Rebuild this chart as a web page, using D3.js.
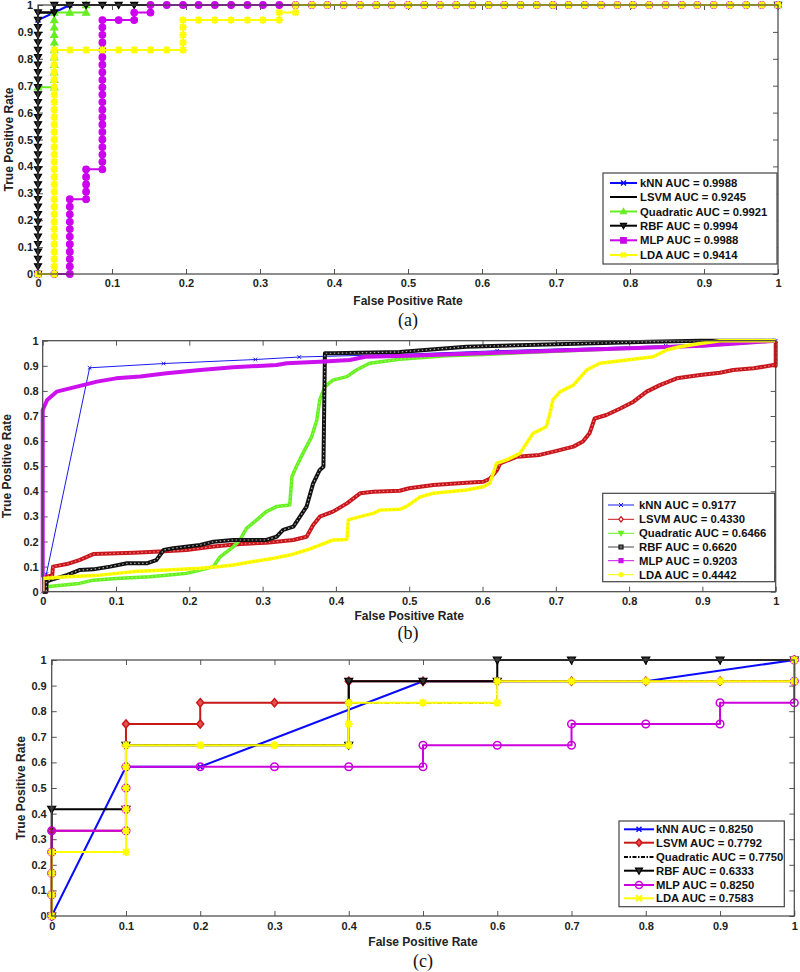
<!DOCTYPE html>
<html><head><meta charset="utf-8">
<script src="https://cdn.jsdelivr.net/npm/d3@7"></script>
<style>body{margin:0;background:#fff}svg{display:block}</style>
</head><body><svg id="c" width="800" height="972"></svg>
<script>
// ---------------- DATA ----------------
const seriesNames = ["kNN", "LSVM", "Quadratic", "RBF", "MLP", "LDA"];
const aucA = ["0.9988", "0.9245", "0.9921", "0.9994", "0.9988", "0.9414"];
const aucB = ["0.9177", "0.4330", "0.6466", "0.6620", "0.9203", "0.4442"];
const aucC = ["0.8250", "0.7792", "0.7750", "0.6333", "0.8250", "0.7583"];
const xTicks = [0, 0.1, 0.2, 0.3, 0.4, 0.5, 0.6, 0.7, 0.8, 0.9, 1];
const xTickLabels = ["0", "0.1", "0.2", "0.3", "0.4", "0.5", "0.6", "0.7", "0.8", "0.9", "1"];
const yTicks = [0, 0.1, 0.2, 0.3, 0.4, 0.5, 0.6, 0.7, 0.8, 0.9, 1];
const yTickLabels = ["0", "0.1", "0.2", "0.3", "0.4", "0.5", "0.6", "0.7", "0.8", "0.9", "1"];
const xLabelText = "False Positive Rate";
const yLabelText = "True Positive Rate";
const captions = ["(a)", "(b)", "(c)"];

// Panel (a)
const aKNN = [[0,0],[0,0.944],[0.022,0.972],[0.043,1],[1,1]];
const aLSVM = [[0,0],[0,0.972],[0.022,0.972],[0.022,1],[1,1]];
const aQuad = [[0,0],[0,0.694],[0.022,0.694],[0.022,0.722],[0.022,0.75],[0.022,0.778],[0.022,0.806],[0.022,0.833],[0.022,0.861],[0.022,0.889],[0.022,0.917],[0.022,0.944],[0.022,0.972],[0.043,0.972],[0.065,0.972],[0.065,1],[1,1]];
const aRBF = [[0,0],[0,0.028],[0,0.056],[0,0.083],[0,0.111],[0,0.139],[0,0.167],[0,0.194],[0,0.222],[0,0.25],[0,0.278],[0,0.306],[0,0.333],[0,0.361],[0,0.389],[0,0.417],[0,0.444],[0,0.472],[0,0.5],[0,0.528],[0,0.556],[0,0.583],[0,0.611],[0,0.639],[0,0.667],[0,0.694],[0,0.722],[0,0.75],[0,0.778],[0,0.806],[0,0.833],[0,0.861],[0,0.889],[0,0.917],[0,0.944],[0,0.972],[0.022,0.972],[0.022,1],[0.043,1],[0.065,1],[0.087,1],[0.109,1],[0.13,1],[1,1]];
const aMLP = [[0,0],[0.022,0],[0.043,0],[0.043,0.028],[0.043,0.056],[0.043,0.083],[0.043,0.111],[0.043,0.139],[0.043,0.167],[0.043,0.194],[0.043,0.222],[0.043,0.25],[0.043,0.278],[0.065,0.278],[0.065,0.306],[0.065,0.333],[0.065,0.361],[0.065,0.389],[0.087,0.389],[0.087,0.417],[0.087,0.444],[0.087,0.472],[0.087,0.5],[0.087,0.528],[0.087,0.556],[0.087,0.583],[0.087,0.611],[0.087,0.639],[0.087,0.667],[0.087,0.694],[0.087,0.722],[0.087,0.75],[0.087,0.778],[0.087,0.806],[0.087,0.833],[0.087,0.861],[0.087,0.889],[0.087,0.917],[0.087,0.944],[0.109,0.944],[0.13,0.944],[0.13,0.972],[0.152,0.972],[0.152,1],[0.174,1],[0.196,1],[0.217,1],[0.239,1],[0.261,1],[0.283,1],[0.304,1],[0.326,1],[0.348,1],[0.37,1],[0.391,1],[0.413,1],[0.435,1],[0.457,1],[0.478,1],[0.5,1],[0.522,1],[0.543,1],[0.565,1],[0.587,1],[0.609,1],[0.63,1],[0.652,1],[0.674,1],[0.696,1],[0.717,1],[0.739,1],[0.761,1],[0.783,1],[0.804,1],[0.826,1],[0.848,1],[0.87,1],[0.891,1],[0.913,1],[0.935,1],[0.957,1],[0.978,1],[1,1]];
const aLDA = [[0,0],[0.022,0],[0.022,0.028],[0.022,0.056],[0.022,0.083],[0.022,0.111],[0.022,0.139],[0.022,0.167],[0.022,0.194],[0.022,0.222],[0.022,0.25],[0.022,0.278],[0.022,0.306],[0.022,0.333],[0.022,0.361],[0.022,0.389],[0.022,0.417],[0.022,0.444],[0.022,0.472],[0.022,0.5],[0.022,0.528],[0.022,0.556],[0.022,0.583],[0.022,0.611],[0.022,0.639],[0.022,0.667],[0.022,0.694],[0.022,0.722],[0.022,0.75],[0.022,0.778],[0.022,0.806],[0.022,0.833],[0.043,0.833],[0.065,0.833],[0.087,0.833],[0.109,0.833],[0.13,0.833],[0.152,0.833],[0.174,0.833],[0.196,0.833],[0.196,0.861],[0.196,0.889],[0.196,0.917],[0.196,0.944],[0.217,0.944],[0.239,0.944],[0.261,0.944],[0.283,0.944],[0.304,0.944],[0.326,0.944],[0.326,0.972],[0.348,0.972],[0.348,1],[0.37,1],[0.391,1],[0.413,1],[0.435,1],[0.457,1],[0.478,1],[0.5,1],[0.522,1],[0.543,1],[0.565,1],[0.587,1],[0.609,1],[0.63,1],[0.652,1],[0.674,1],[0.696,1],[0.717,1],[0.739,1],[0.761,1],[0.783,1],[0.804,1],[0.826,1],[0.848,1],[0.87,1],[0.891,1],[0.913,1],[0.935,1],[0.957,1],[0.978,1],[1,1]];

// Panel (b)
const bKNN = [[0,0],[0.005,0.07],[0.064,0.892],[0.165,0.909],[0.29,0.925],[0.35,0.935],[0.48,0.945],[0.62,0.96],[0.85,0.98],[1,1]];
const bLSVM = [[0,0],[0.005,0],[0.005,0.06],[0.013,0.065],[0.014,0.1],[0.033,0.11],[0.05,0.126],[0.069,0.15],[0.124,0.155],[0.16,0.16],[0.196,0.166],[0.233,0.18],[0.27,0.19],[0.305,0.195],[0.342,0.206],[0.36,0.219],[0.369,0.266],[0.378,0.299],[0.396,0.319],[0.415,0.352],[0.433,0.392],[0.451,0.398],[0.487,0.402],[0.5,0.412],[0.533,0.425],[0.578,0.434],[0.601,0.438],[0.61,0.45],[0.62,0.485],[0.624,0.511],[0.647,0.538],[0.678,0.545],[0.697,0.558],[0.724,0.578],[0.737,0.598],[0.746,0.631],[0.753,0.69],[0.769,0.704],[0.788,0.73],[0.806,0.757],[0.824,0.797],[0.842,0.823],[0.865,0.85],[0.897,0.863],[0.924,0.872],[0.942,0.883],[0.97,0.89],[0.997,0.903],[1,0.9],[1,1]];
const bQuad = [[0,0],[0.005,0.02],[0.05,0.033],[0.069,0.046],[0.1,0.053],[0.146,0.06],[0.169,0.066],[0.196,0.073],[0.215,0.086],[0.233,0.1],[0.242,0.139],[0.26,0.179],[0.269,0.206],[0.278,0.252],[0.292,0.286],[0.305,0.319],[0.319,0.339],[0.337,0.345],[0.34,0.458],[0.346,0.498],[0.355,0.551],[0.367,0.618],[0.374,0.684],[0.378,0.764],[0.385,0.817],[0.396,0.843],[0.415,0.857],[0.428,0.883],[0.446,0.91],[0.487,0.926],[0.55,0.94],[0.6,0.945],[0.676,0.955],[0.8,0.97],[0.9,0.98],[1,1]];
const bRBF = [[0,0],[0.005,0],[0.005,0.04],[0.01,0.046],[0.033,0.066],[0.05,0.086],[0.069,0.089],[0.092,0.1],[0.115,0.113],[0.142,0.113],[0.155,0.126],[0.165,0.166],[0.178,0.173],[0.215,0.186],[0.233,0.199],[0.26,0.206],[0.305,0.206],[0.319,0.219],[0.328,0.246],[0.342,0.259],[0.351,0.299],[0.36,0.339],[0.369,0.432],[0.378,0.485],[0.383,0.498],[0.385,0.95],[0.396,0.95],[0.487,0.955],[0.578,0.976],[0.715,0.987],[0.828,0.996],[0.897,1],[1,1]];
const bMLP = [[0,0],[0,0.724],[0.006,0.764],[0.019,0.797],[0.037,0.81],[0.055,0.823],[0.074,0.837],[0.1,0.85],[0.133,0.857],[0.169,0.87],[0.215,0.883],[0.26,0.894],[0.319,0.903],[0.333,0.91],[0.378,0.916],[0.419,0.923],[0.44,0.936],[0.5,0.94],[0.6,0.95],[0.7,0.96],[0.8,0.97],[0.9,0.98],[0.95,0.99],[1,1]];
const bLDA = [[0,0],[0,0.053],[0.033,0.06],[0.078,0.066],[0.124,0.08],[0.169,0.086],[0.215,0.093],[0.242,0.1],[0.26,0.106],[0.287,0.12],[0.315,0.133],[0.337,0.146],[0.36,0.166],[0.378,0.186],[0.396,0.206],[0.415,0.208],[0.417,0.286],[0.433,0.299],[0.451,0.312],[0.46,0.325],[0.487,0.328],[0.496,0.339],[0.515,0.378],[0.533,0.392],[0.578,0.405],[0.601,0.418],[0.61,0.432],[0.619,0.511],[0.633,0.525],[0.651,0.551],[0.66,0.591],[0.669,0.631],[0.687,0.657],[0.692,0.71],[0.696,0.764],[0.706,0.797],[0.724,0.823],[0.742,0.883],[0.76,0.91],[0.797,0.923],[0.833,0.936],[0.851,0.963],[0.869,0.976],[0.897,0.989],[0.924,1],[1,1]];

// Panel (c)
const cKNN = [[0,0],[0.1,0.583],[0.2,0.583],[0.5,0.917],[0.8,0.917],[1,1]];
const cLSVM = [[0,0],[0,0.083],[0,0.167],[0,0.25],[0,0.333],[0.1,0.333],[0.1,0.417],[0.1,0.5],[0.1,0.583],[0.1,0.667],[0.1,0.75],[0.2,0.75],[0.2,0.833],[0.3,0.833],[0.4,0.833],[0.4,0.917],[0.5,0.917],[0.6,0.917],[0.7,0.917],[0.8,0.917],[0.9,0.917],[1,0.917],[1,1]];
const cQuad = [[0,0],[0,0.25],[0.1,0.25],[0.1,0.667],[0.2,0.667],[0.3,0.667],[0.4,0.667],[0.4,0.75],[0.4,0.833],[0.6,0.833],[0.6,0.917],[0.7,0.917],[0.8,0.917],[0.9,0.917],[1,0.917],[1,1]];
const cRBF = [[0,0],[0,0.417],[0.1,0.417],[0.1,0.667],[0.4,0.667],[0.4,0.917],[0.5,0.917],[0.6,0.917],[0.6,1],[0.7,1],[0.8,1],[0.9,1],[1,1]];
const cMLP = [[0,0],[0,0.083],[0,0.167],[0,0.25],[0,0.333],[0.1,0.333],[0.1,0.417],[0.1,0.5],[0.1,0.583],[0.2,0.583],[0.3,0.583],[0.4,0.583],[0.5,0.583],[0.5,0.667],[0.6,0.667],[0.7,0.667],[0.7,0.75],[0.8,0.75],[0.9,0.75],[0.9,0.833],[1,0.833],[1,0.917],[1,1]];
const cLDA = [[0,0],[0,0.083],[0,0.167],[0,0.25],[0.1,0.25],[0.1,0.333],[0.1,0.417],[0.1,0.5],[0.1,0.583],[0.1,0.667],[0.2,0.667],[0.3,0.667],[0.4,0.667],[0.4,0.75],[0.4,0.833],[0.5,0.833],[0.6,0.833],[0.6,0.917],[0.7,0.917],[0.8,0.917],[0.9,0.917],[1,0.917],[1,1]];

// ---------------- DRAWING ----------------
const svg = d3.select("#c");
const FONT = "'Liberation Sans', Arial, Helvetica, sans-serif";

function markerPath(type, s) {
  switch (type) {
    case "x": return `M${-s},${-s}L${s},${s}M${-s},${s}L${s},${-s}`;
    case "star": return `M${-s},${-s}L${s},${s}M${-s},${s}L${s},${-s}M0,${-s*1.3}L0,${s*1.3}M${-s*1.3},0L${s*1.3},0`;
    case "triUp": return `M0,${-s}L${s},${s*0.75}L${-s},${s*0.75}Z`;
    case "triDown": return `M0,${s}L${s},${-s*0.75}L${-s},${-s*0.75}Z`;
    case "square": return `M${-s},${-s}h${2*s}v${2*s}h${-2*s}Z`;
    case "diamond": return `M0,${-s*1.2}L${s},0L0,${s*1.2}L${-s},0Z`;
    case "circle":
    default: return `M${s},0A${s},${s} 0 1,1 ${-s},0A${s},${s} 0 1,1 ${s},0Z`;
  }
}

function drawMarkers(g, pts, st) {
  if (!st.marker) return;
  g.append("g").selectAll("path").data(pts).join("path")
    .attr("transform", d => `translate(${d[0]},${d[1]})`)
    .attr("d", markerPath(st.marker, st.ms))
    .attr("fill", st.mfill || "none")
    .attr("stroke", st.mstroke || st.color)
    .attr("stroke-width", st.mlw || 1.2);
}

function drawPanel(p) {
  const x = d3.scaleLinear().domain([0, 1]).range([p.x0, p.x1]);
  const y = d3.scaleLinear().domain([0, 1]).range([p.y0, p.y1]);
  const g = svg.append("g");

  const fmtX = (d, i) => xTickLabels[i];
  const fmtY = (d, i) => yTickLabels[i];
  const ax = [
    [d3.axisBottom(x).tickValues(xTicks).tickFormat(fmtX).tickPadding(p.xpad), `translate(0,${p.y0})`],
    [d3.axisTop(x).tickValues(xTicks).tickFormat(""), `translate(0,${p.y1})`],
    [d3.axisLeft(y).tickValues(yTicks).tickFormat(fmtY).tickPadding(p.ypad), `translate(${p.x0},0)`],
    [d3.axisRight(y).tickValues(yTicks).tickFormat(""), `translate(${p.x1},0)`]
  ];
  const axG = g.append("g");
  ax.forEach(([a, t]) => {
    a.tickSizeInner(-5).tickSizeOuter(0);
    const gg = axG.append("g").attr("transform", t).call(a);
    gg.select(".domain").remove();
    gg.selectAll(".tick line").attr("stroke", "#555").attr("stroke-width", 1);
    gg.selectAll(".tick text").attr("font-family", FONT).attr("font-weight", "bold")
      .attr("font-size", 11).attr("fill", "#222");
  });

  const sg = g.append("g");
  p.series.forEach((s, i) => {
    const st = p.styles[i];
    const line = d3.line().x(d => x(d[0])).y(d => y(d[1]));
    sg.append("path").attr("d", line(s)).attr("fill", "none")
      .attr("stroke", st.color).attr("stroke-width", st.lw)
      .attr("stroke-dasharray", st.dash || null)
      .attr("stroke-linejoin", "round");
    if (st.overlay) {
      sg.append("path").attr("d", line(s)).attr("fill", "none")
        .attr("stroke", st.overlay).attr("stroke-width", st.olw || 1)
        .attr("stroke-dasharray", st.odash || "1.5,2.5");
    }
    drawMarkers(sg, s.map(d => [x(d[0]), y(d[1])]), st);
  });

  g.append("rect").attr("x", p.x0).attr("y", p.y1).attr("width", p.x1 - p.x0).attr("height", p.y0 - p.y1)
    .attr("fill", "none").attr("stroke", "#444").attr("stroke-width", 1.2);

  g.append("text").attr("x", (p.x0 + p.x1) / 2).attr("y", p.xlabY).attr("text-anchor", "middle")
    .attr("font-family", FONT).attr("font-weight", "bold").attr("font-size", 12).attr("fill", "#222")
    .text(xLabelText);
  g.append("text").attr("transform", `translate(${p.ylabX},${(p.y0 + p.y1) / 2}) rotate(-90)`)
    .attr("text-anchor", "middle")
    .attr("font-family", FONT).attr("font-weight", "bold").attr("font-size", 12).attr("fill", "#222")
    .text(yLabelText);
  g.append("text").attr("x", p.capX).attr("y", p.capY).attr("text-anchor", "middle")
    .attr("font-family", "'Liberation Serif', 'Times New Roman', serif").attr("font-size", 18).attr("fill", "#111")
    .text(p.caption);

  const L = p.legend;
  const lg = g.append("g");
  lg.append("rect").attr("x", L.x).attr("y", L.y).attr("width", L.w).attr("height", L.h)
    .attr("fill", "#fff").attr("stroke", "#444").attr("stroke-width", 1.2);
  seriesNames.forEach((n, i) => {
    const st = Object.assign({}, p.styles[i], p.legendStyles ? p.legendStyles[i] : {});
    const yy = L.rows[i];
    lg.append("line").attr("x1", L.lx0).attr("x2", L.lx1).attr("y1", yy).attr("y2", yy)
      .attr("stroke", st.color).attr("stroke-width", st.llw || st.lw).attr("stroke-dasharray", st.dash || null);
    if (st.marker) drawMarkers(lg, [[(L.lx0 + L.lx1) / 2, yy]], Object.assign({}, st, {ms: st.lms || st.ms}));
    lg.append("text").attr("x", L.tx).attr("y", yy).attr("dy", "0.36em")
      .attr("font-family", FONT).attr("font-weight", "bold").attr("font-size", 11.3).attr("fill", "#111")
      .text(`${n} AUC = ${p.auc[i]}`);
  });
}

const BLUE = "#0a0aff", GREEN = "#66ee22", MAG = "#cc00ee", YEL = "#ffff00", RED = "#c8161d";

drawPanel({
  x0: 38, x1: 778, y0: 274, y1: 5, xpad: 5, ypad: 5,
  xlabY: 305, ylabX: 13, capX: 408, capY: 326, caption: captions[0], auc: aucA,
  series: [aKNN, aLSVM, aQuad, aRBF, aMLP, aLDA],
  styles: [
    {color: BLUE, lw: 2, marker: "x", ms: 2.5, mlw: 1.5},
    {color: "#000", lw: 2},
    {color: GREEN, lw: 2, marker: "triUp", ms: 3.5, mfill: GREEN},
    {color: "#000", lw: 2, marker: "triDown", ms: 3.5, mfill: "#222", mstroke: "#000"},
    {color: MAG, lw: 2, marker: "circle", ms: 3.3, mfill: MAG},
    {color: YEL, lw: 2, marker: "star", ms: 2.8, mlw: 2}
  ],
  legendStyles: [{lms: 2.5}, {}, {lms: 3}, {lms: 3}, {marker: "square", lms: 2.8}, {marker: "x", lms: 2.5}],
  legend: {x: 603, y: 173, w: 174, h: 91, lx0: 610, lx1: 637, tx: 640,
    rows: [183, 197, 211.5, 225.7, 240.3, 255]}
});

drawPanel({
  x0: 42.7, x1: 775.7, y0: 591.7, y1: 340.7, xpad: 6, ypad: 4,
  xlabY: 620, ylabX: 11, capX: 408, capY: 639, caption: captions[1], auc: aucB,
  series: [bKNN, bLSVM, bQuad, bRBF, bMLP, bLDA],
  styles: [
    {color: "#1a1aee", lw: 1, marker: "x", ms: 1.8, mlw: 1},
    {color: RED, lw: 4, overlay: "#f08080", olw: 1.2, odash: "1.5,2.5"},
    {color: "#66f020", lw: 3.5, overlay: "#a8ff70", olw: 1, odash: "1.5,2.5"},
    {color: "#111", lw: 4, overlay: "#aaa", olw: 1.2, odash: "1.5,2.5"},
    {color: "#cc11ee", lw: 4},
    {color: "#ffff00", lw: 3.5, overlay: "#e0e020", olw: 1, odash: "1.5,2.5"}
  ],
  legendStyles: [
    {llw: 1, lms: 2},
    {llw: 1, marker: "diamond", ms: 2, lms: 2.2, mfill: "#fff", mstroke: RED},
    {llw: 1, marker: "triDown", lms: 2.5, mfill: "#66f020", color: "#66f020"},
    {llw: 1, marker: "square", lms: 2, mfill: "#666", mstroke: "#111", color: "#444"},
    {llw: 1, marker: "square", lms: 2, mfill: "#cc11ee"},
    {llw: 1, marker: "circle", lms: 2, mfill: "#ffff00"}
  ],
  legend: {x: 602.7, y: 493.3, w: 172, h: 88.4, lx0: 608, lx1: 634, tx: 639,
    rows: [505, 519.3, 533.3, 547, 560.7, 574.7]}
});

drawPanel({
  x0: 51.7, x1: 794.3, y0: 916, y1: 660, xpad: 6, ypad: 5,
  xlabY: 946, ylabX: 25, capX: 423, capY: 967, caption: captions[2], auc: aucC,
  series: [cKNN, cLSVM, cQuad, cRBF, cMLP, cLDA],
  styles: [
    {color: BLUE, lw: 2, marker: "x", ms: 2.5, mlw: 1.5},
    {color: "#c81818", lw: 2, marker: "diamond", ms: 3.5, mfill: "#e85050", mlw: 1.5},
    {color: "#000", lw: 1.5, dash: "5,2,1.5,2", marker: "circle", ms: 1.3, mfill: "#000"},
    {color: "#000", lw: 2, marker: "triDown", ms: 4, mfill: "#333", mstroke: "#000"},
    {color: "#cc00dd", lw: 2, marker: "circle", ms: 3.8, mfill: "none", mlw: 1.5},
    {color: YEL, lw: 2, marker: "star", ms: 3, mlw: 2}
  ],
  legendStyles: [{lms: 2.5}, {lms: 3}, {marker: null, dash: "4,1.5,1.5,1.5", color: "#000", lw: 2}, {lms: 3.5}, {lms: 3.5}, {marker: "x", lms: 3}],
  legend: {x: 619, y: 821, w: 165.3, h: 85.7, lx0: 624, lx1: 654, tx: 656,
    rows: [829.3, 842.7, 857, 870.7, 885, 898.3]}
});
</script>
</body></html>
